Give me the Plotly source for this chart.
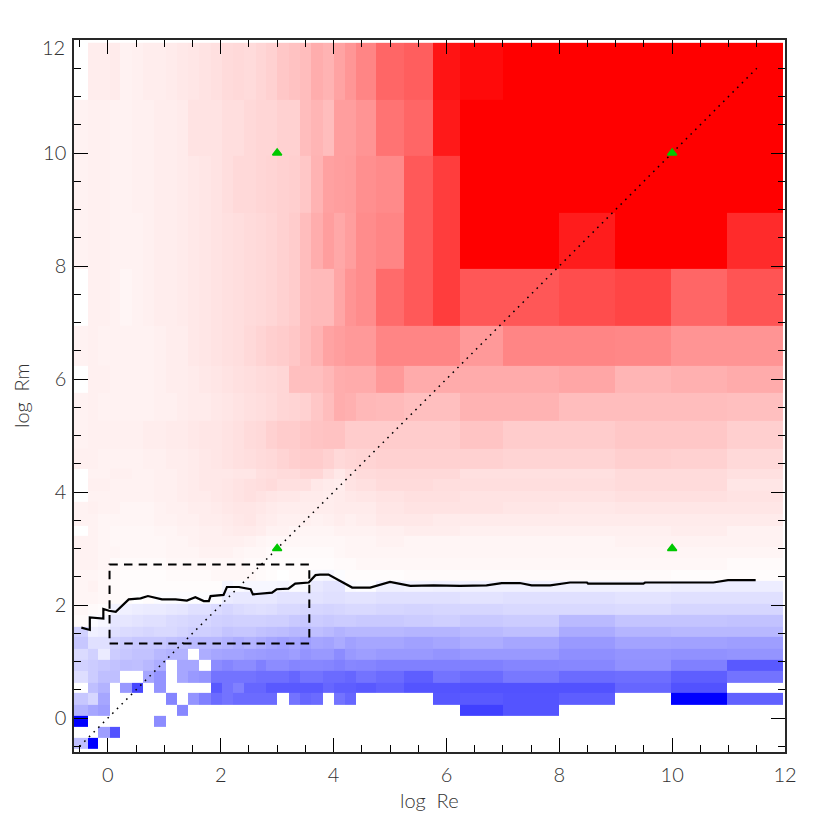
import plotly.graph_objects as go

# cell edges of the grid (log Re, log Rm)
re_edges = [-0.6, -0.36, -0.18, 0.03, 0.21, 0.42, 0.62, 0.82, 1.03, 1.22, 1.42, 1.62, 1.82, 2.02, 2.22, 2.42,
            2.62, 2.81, 3.0, 3.21, 3.41, 3.6, 3.82, 4.0, 4.21, 4.4, 4.76, 5.25, 5.76, 6.24, 7.0, 8.0, 8.98, 9.98, 10.97, 11.96]
rm_edges = [-0.55, -0.35, -0.16, 0.04, 0.23, 0.44, 0.63, 0.83, 1.04, 1.23, 1.43, 1.62, 1.83, 2.02, 2.23, 2.43,
            2.62, 2.83, 3.03, 3.22, 3.41, 3.62, 3.83, 4.02, 4.23, 4.41, 4.76, 5.26, 5.75, 6.24, 6.95, 7.95, 8.95, 9.95, 10.95, 11.95]

# values in percent of full colour, bottom row first: blue below zero, red above
row_00 = [-25, -100, 0, 0, 0, 0, 0, 0, 0, 0, 0, 0, 0, 0, 0, 0, 0, 0, 0, 0, 0, 0, 0, 0, 0, 0, 0, 0, 0, 0, 0, 0, 0, 0, 0]
row_01 = [0, 0, -38, -68, 0, 0, 0, 0, 0, 0, 0, 0, 0, 0, 0, 0, 0, 0, 0, 0, 0, 0, 0, 0, 0, 0, 0, 0, 0, 0, 0, 0, 0, 0, 0]
row_02 = [-100, 0, 0, 0, 0, 0, 0, -45, 0, 0, 0, 0, 0, 0, 0, 0, 0, 0, 0, 0, 0, 0, 0, 0, 0, 0, 0, 0, 0, 0, 0, 0, 0, 0, 0]
row_03 = [-30, -35, -38, 0, 0, 0, 0, 0, 0, -47, 0, 0, 0, 0, 0, 0, 0, 0, 0, 0, 0, 0, 0, 0, 0, 0, 0, 0, 0, -75, -67, 0, 0, 0, 0]
row_04 = [-22, -16, -35, 0, 0, 0, 0, 0, -48, 0, -42, -50, -58, -55, -58, -58, -58, -58, 0, -55, -60, -58, 0, -55, -60, 0, 0, 0, -66, -65, -67, -63, 0, -100, -62]
row_05 = [0, -25, -30, 0, -40, -72, 0, -42, 0, 0, 0, 0, -65, -55, -50, -60, -60, -65, -65, -65, -65, -65, -60, -63, -63, -65, -62, -67, -67, -68, -68, -68, -60, -68, 0]
row_06 = [-13, -20, -25, -25, 0, 0, -35, -42, 0, -35, -40, -42, -55, -55, -55, -55, -57, -57, -57, -60, -55, -55, -58, -58, -60, -55, -58, -63, -55, -58, -53, -58, -57, -63, -55]
row_07 = [-18, -20, -22, -24, -26, -25, -28, -32, 0, -35, -35, 0, -45, -48, -45, -45, -50, -45, -45, -48, -47, -47, -48, -50, -47, -48, -50, -50, -50, -50, -48, -47, -43, -50, -65]
row_08 = [-14, -18, -8, -20, -22, -24, -24, -28, -30, -30, 0, -32, -35, -36, -36, -38, -39, -40, -40, -38, -42, -40, -40, -45, -40, -38, -40, -40, -42, -40, -40, -44, -42, -43, -42]
row_09 = [-22, -12, -12, -18, -20, -22, -22, -22, -24, -25, -27, -28, -28, -30, -32, -30, -32, -35, -37, -35, -38, -35, -36, -33, -37, -35, -35, -37, -35, -32, -35, -40, -36, -37, -38]
row_10 = [-18, -6, -7, -12, -14, -15, -16, -15, -15, -17, -19, -19, -20, -23, -22, -22, -24, -25, -26, -28, -27, -25, -27, -30, -28, -28, -28, -29, -29, -27, -25, -33, -29, -28, -28]
row_11 = [2, -1, -3, -10, -10, -11, -12, -12, -14, -15, -16, -16, -18, -19, -18, -18, -18, -19, -19, -21, -22, -20, -21, -20, -20, -21, -21, -20, -19, -21, -20, -27, -23, -23, -24]
row_12 = [3, 2, 1, -5, -6, -7, -8, -8, -9, -10, -12, -12, -14, -16, -14, -13, -12, -13, -15, -15, -16, -16, -17, -16, -15, -15, -16, -17, -16, -16, -15, -15, -14, -16, -16]
row_13 = [4, 4, 3, 2, 1, 0, 1, -1, -1, -1, -1, -1, -2, -8, -9, -9, -9, -9, -11, -11, -11, -11, -12, -12, -11, -11, -12, -12, -12, -11, -12, -12, -11, -12, -12]
row_14 = [4, 5, 3, 2, 1, 1, 1, 1, 1, 1, 1, 1, 1, -4, -2, -3, -3, -3, -4, -2, -2, -9, -11, -11, -2, -1, -6, -5, -6, -6, -6, -6, -6, -7, -7]
row_15 = [4, 4, 3, 2, 1, 1, 1, 1, 2, 2, 2, 2, 3, 3, 3, 3, 2, 1, 0, 1, 1, -3, -4, -1, 1, 1, 1, 2, 2, 2, 2, 2, 2, 1, 1]
row_16 = [5, 5, 4, 2, 2, 2, 2, 2, 3, 3, 3, 3, 3, 3, 3, 2, 2, 1, 1, 1, 1, 1, 1, 2, 2, 3, 3, 3, 3, 3, 3, 3, 3, 3, 2]
row_17 = [5, 5, 4, 4, 3, 3, 3, 3, 4, 4, 4, 5, 5, 5, 4, 3, 3, 2, 2, 2, 2, 2, 2, 3, 4, 4, 4, 4, 4, 4, 4, 4, 4, 4, 4]
row_18 = [5, 5, 4, 3, 3, 3, 3, 3, 4, 4, 5, 6, 6, 6, 6, 5, 4, 3, 3, 3, 3, 3, 3, 3, 4, 4, 5, 4, 4, 4, 4, 4, 5, 5, 5]
row_19 = [0, 5, 4, 3, 3, 3, 3, 4, 4, 5, 5, 6, 6, 7, 8, 8, 7, 5, 5, 4, 4, 4, 4, 5, 5, 5, 6, 7, 7, 6, 6, 6, 6, 7, 5]
row_20 = [5, 5, 4, 4, 4, 4, 4, 5, 5, 6, 6, 7, 7, 8, 9, 10, 8, 7, 6, 6, 6, 5, 6, 7, 6, 7, 9, 9, 8, 8, 8, 8, 8, 8, 8]
row_21 = [5, 6, 5, 5, 4, 4, 4, 5, 6, 6, 7, 7, 8, 9, 10, 10, 9, 8, 7, 7, 7, 7, 7, 8, 8, 8, 10, 11, 11, 11, 10, 9, 10, 10, 10]
row_22 = [0, 5, 5, 5, 5, 5, 5, 6, 6, 7, 8, 8, 9, 10, 11, 12, 11, 10, 9, 9, 8, 8, 7, 8, 9, 10, 11, 12, 12, 11, 11, 11, 12, 12, 11]
row_23 = [0, 6, 6, 5, 5, 5, 5, 6, 6, 7, 8, 9, 9, 10, 11, 12, 13, 14, 12, 12, 12, 9, 8, 7, 11, 12, 14, 14, 13, 13, 13, 13, 14, 14, 10]
row_24 = [0, 5, 5, 6, 6, 5, 5, 6, 6, 7, 8, 9, 9, 9, 10, 10, 12, 13, 14, 14, 16, 16, 12, 9, 12, 14, 15, 15, 15, 12, 12, 12, 14, 14, 12]
row_25 = [6, 6, 5, 5, 5, 5, 6, 6, 7, 7, 8, 9, 10, 11, 12, 13, 14, 15, 17, 19, 20, 20, 18, 15, 16, 17, 18, 18, 18, 18, 17, 17, 19, 18, 15]
row_26 = [5, 6, 6, 6, 6, 6, 7, 7, 8, 8, 9, 10, 10, 11, 12, 14, 15, 18, 20, 20, 22, 23, 24, 24, 20, 20, 20, 20, 20, 23, 20, 20, 22, 22, 19]
row_27 = [5, 6, 5, 5, 5, 5, 5, 6, 6, 7, 8, 8, 9, 10, 11, 12, 13, 14, 16, 17, 18, 22, 26, 32, 31, 28, 27, 25, 25, 30, 30, 26, 26, 26, 25]
row_28 = [0, 6, 6, 5, 5, 5, 5, 6, 7, 7, 8, 9, 10, 11, 12, 13, 14, 15, 16, 25, 25, 25, 28, 32, 33, 33, 40, 33, 33, 33, 33, 35, 29, 31, 33]
row_29 = [5, 6, 5, 5, 5, 5, 5, 6, 7, 7, 9, 10, 11, 12, 13, 15, 17, 19, 20, 22, 26, 30, 36, 38, 40, 40, 48, 48, 48, 40, 48, 48, 47, 42, 42]
row_30 = [0, 6, 6, 5, 4, 5, 6, 7, 7, 8, 9, 10, 11, 12, 13, 14, 15, 16, 18, 20, 26, 27, 27, 35, 42, 45, 58, 65, 76, 66, 66, 70, 73, 60, 67]
row_31 = [5, 6, 6, 5, 5, 5, 6, 7, 7, 8, 9, 10, 11, 12, 13, 14, 15, 16, 18, 20, 26, 32, 38, 34, 38, 45, 48, 65, 76, 100, 100, 89, 100, 100, 83]
row_32 = [5, 6, 6, 5, 5, 6, 6, 7, 7, 8, 9, 10, 11, 13, 15, 15, 16, 17, 18, 19, 22, 30, 37, 38, 39, 44, 46, 65, 76, 100, 100, 100, 100, 100, 100]
row_33 = [5, 6, 6, 5, 5, 6, 6, 7, 7, 8, 11, 11, 11, 13, 13, 15, 16, 16, 18, 18, 26, 29, 26, 38, 38, 42, 55, 60, 90, 100, 100, 100, 100, 100, 100]
row_34 = [0, 7, 7, 8, 5, 6, 7, 7, 8, 9, 10, 11, 12, 14, 15, 14, 16, 18, 22, 24, 26, 32, 30, 36, 41, 48, 60, 63, 92, 96, 100, 100, 100, 100, 100]

z_rows = [row_00, row_01, row_02, row_03, row_04, row_05, row_06, row_07, row_08, row_09,
          row_10, row_11, row_12, row_13, row_14, row_15, row_16, row_17, row_18, row_19,
          row_20, row_21, row_22, row_23, row_24, row_25, row_26, row_27, row_28, row_29,
          row_30, row_31, row_32, row_33, row_34]
for r in z_rows:
    assert len(r) == 35

# critical Rm curve
curve_re = [-0.47, -0.32, -0.32, -0.08, -0.08, 0.02, 0.14, 0.37, 0.58, 0.71, 0.96, 1.20, 1.40, 1.55, 1.70, 1.79, 1.82,
            2.05, 2.11, 2.32, 2.53, 2.57, 2.91, 2.99, 3.20, 3.32, 3.56, 3.68, 3.76, 3.91, 4.33, 4.65, 5.0, 5.36, 5.77,
            6.24, 6.71, 6.98, 7.30, 7.51, 7.84, 8.19, 8.49, 8.51, 9.49, 9.52, 10.73, 10.99, 11.48]
curve_rm = [1.60, 1.56, 1.78, 1.76, 1.93, 1.90, 1.88, 2.10, 2.12, 2.16, 2.10, 2.10, 2.08, 2.14, 2.07, 2.07, 2.16,
            2.18, 2.32, 2.32, 2.28, 2.19, 2.22, 2.28, 2.29, 2.38, 2.40, 2.53, 2.54, 2.54, 2.31, 2.31, 2.41, 2.34, 2.35,
            2.34, 2.35, 2.39, 2.39, 2.35, 2.35, 2.40, 2.40, 2.38, 2.38, 2.40, 2.40, 2.44, 2.44]

# Pm = 1 diagonal, zoom box, and the marked runs
diag_re = [-0.5, 11.5]
diag_rm = [-0.5, 11.5]
box_re = [0.03, 3.57, 3.57, 0.03, 0.03]
box_rm = [1.32, 1.32, 2.72, 2.72, 1.32]
runs_re = [3, 10, 3, 10]
runs_rm = [3, 3, 10, 10]

tick_vals = [0, 2, 4, 6, 8, 10, 12]
x_tick_text = ['0', '2', '4', '6', '8', '10', '12']
y_tick_text = ['0', '2', '4', '6', '8', '10', '']  # top label sits lower, added below

ax_font = dict(family='Lato', size=20, color='rgb(50,50,50)', weight=300)
title_font = dict(family='Lato', size=20, color='rgb(50,50,50)', weight=300)

fig = go.Figure()
fig.add_trace(go.Heatmap(
    x=re_edges, y=rm_edges, z=z_rows,
    zmin=-100, zmax=100,
    colorscale=[[0, 'rgb(0,0,255)'], [0.5, 'rgb(255,255,255)'], [1, 'rgb(255,0,0)']],
    showscale=False,
))
fig.add_trace(go.Scatter(x=diag_re, y=diag_rm, mode='lines',
                         line=dict(color='black', width=1.5, dash='1.6px,5px')))
fig.add_trace(go.Scatter(x=curve_re, y=curve_rm, mode='lines',
                         line=dict(color='black', width=2.2)))
fig.add_trace(go.Scatter(x=box_re, y=box_rm, mode='lines',
                         line=dict(color='black', width=2, dash='8.5px,6.2px')))
fig.add_trace(go.Scatter(x=runs_re, y=runs_rm, mode='markers',
                         marker=dict(symbol='triangle-up', size=8, color='rgb(0,200,0)',
                                     line=dict(color='rgb(0,200,0)', width=1.5))))

axis_style = dict(
    tickvals=tick_vals,
    range=[-0.6, 12],
    ticks='inside', ticklen=14, tickwidth=1, tickcolor='black',
    minor=dict(dtick=0.5, tick0=0, ticks='inside', ticklen=7, tickwidth=1, tickcolor='black', showgrid=False),
    showline=True, linecolor='rgb(40,40,40)', linewidth=1.5, mirror='allticks',
    showgrid=False, zeroline=False,
    tickfont=ax_font,
)
fig.update_xaxes(**axis_style, ticktext=x_tick_text, ticklabelstandoff=4)
fig.update_yaxes(**axis_style, ticktext=y_tick_text, ticklabelstandoff=2)

# body margin of the page adds 8px on the left and top
fig.update_layout(
    width=822, height=822,
    margin=dict(l=65.5, r=44.7, t=32, b=78.1, autoexpand=False),
    plot_bgcolor='white', paper_bgcolor='white',
    showlegend=False,
    annotations=[
        dict(xref='paper', yref='paper', x=0.5, y=-0.068, yanchor='middle', xanchor='center',
             text='log\u00a0\u00a0Re', showarrow=False, font=title_font),
        dict(xref='paper', yref='paper', x=-0.0745, y=0.5, yanchor='middle', xanchor='center', textangle=-90,
             text='log\u00a0\u00a0Rm', showarrow=False, font=title_font),
        dict(xref='paper', yref='y', x=-0.0105, y=12, xanchor='right', yanchor='middle', yshift=-7,
             text='12', showarrow=False, font=ax_font),
    ],
)

fig.write_html("out.html")
